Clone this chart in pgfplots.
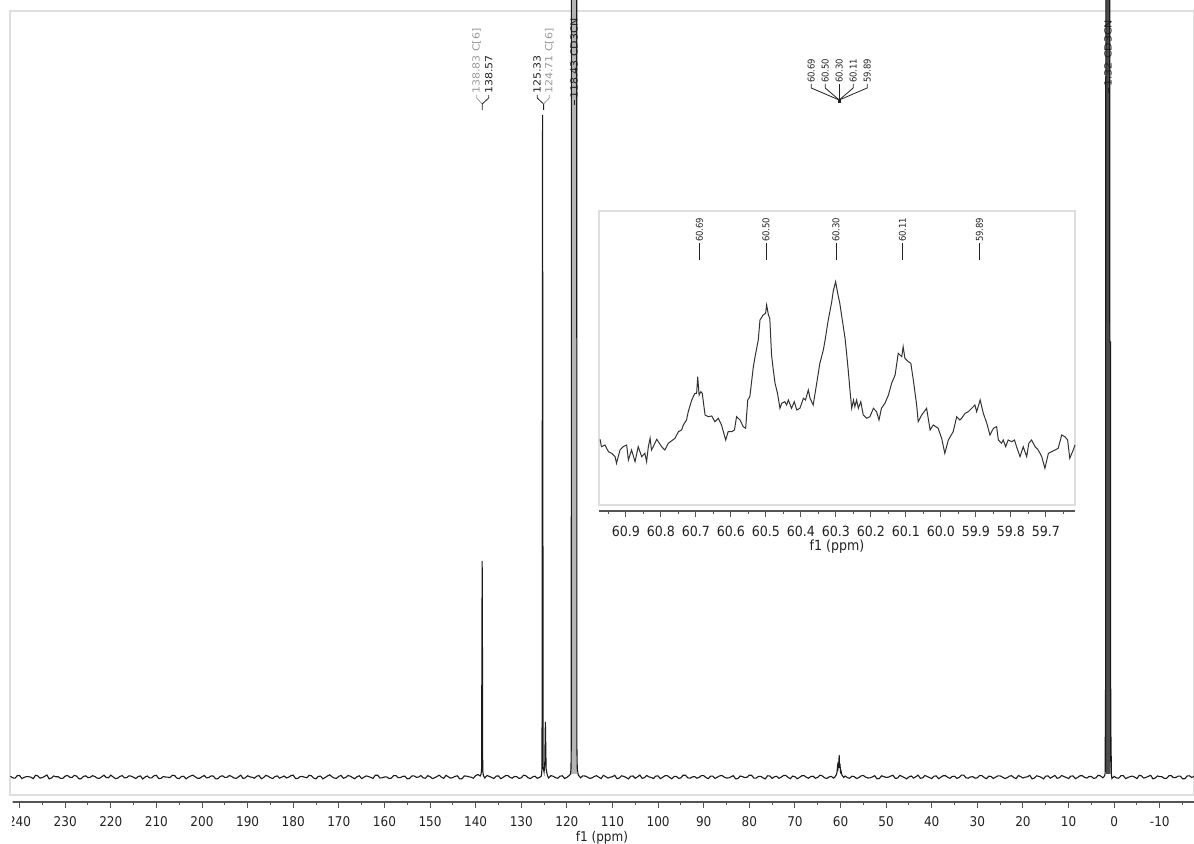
\documentclass[border=0pt]{standalone}
\usepackage{pgfplots}
\pgfplotsset{compat=1.18}
\usepackage{fontspec}
\setmainfont{DejaVu Sans Condensed}

\definecolor{spec}{HTML}{1A1A1A}
\definecolor{framegray}{HTML}{DEDEDE}
\definecolor{axisgray}{HTML}{555555}
\definecolor{labgray}{HTML}{999999}
\definecolor{labdark}{HTML}{222222}
\definecolor{nitrile}{HTML}{B4B4B4}
\definecolor{methyl}{HTML}{4C4C4C}

\newcommand{\ticksfont}{\fontsize{6.7}{7.5}\selectfont}
\newcommand{\labfont}{\fontsize{4.7}{5}\selectfont}
\newcommand{\peakfont}{\fontsize{4.9}{5}\selectfont}
% peak labels are drawn stretched along the reading direction
\newcommand{\wl}[1]{\scalebox{1.25}[1]{#1}}

\tikzset{
  vlab/.style={rotate=90, anchor=west, inner sep=0.3pt, font=\labfont, text=#1},
  vlab/.default=labdark,
  plab/.style={rotate=90, anchor=west, inner sep=0.3pt, font=\peakfont, text=#1},
  plab/.default=labdark,
}

\pgfplotsset{
  ppmticks/.style={
    scale only axis, axis x line*=bottom, axis y line=none,
    ymin=0, ymax=1, x dir=reverse, tick align=outside,
    x axis line style={axisgray, line width=0.6pt, -},
    xtick style={axisgray, line width=0.5pt},
    major tick length=3pt, minor tick length=1.6pt,
    xticklabel style={font=\ticksfont, text=labdark, anchor=north, inner sep=0pt, yshift=-4.3pt},
    xlabel style={font=\ticksfont, text=labdark, at={(axis description cs:0.5,0)}, anchor=north, inner sep=0pt, yshift=-14.3pt},
  },
  frameonly/.style={
    scale only axis, x dir=reverse, xtick=\empty, ytick=\empty,
    axis line style={framegray, line width=0.6pt}, clip=false,
  },
}

\begin{document}
\begin{tikzpicture}
\useasboundingbox (0,0) rectangle (597pt,422pt);

% ---------- main spectrum: frame, solvent band fills and peak labels ----------
\begin{axis}[frameonly, at={(5pt,24.5pt)}, anchor=south west,
  width=592pt, height=392pt, xmin=-17.5, xmax=242.1, ymin=-18, ymax=766]
  % interior of the two broad solvent signals
  \addplot[draw=none, fill=nitrile] coordinates {(119.0,3)(119.0,900)(117.85,900)(117.85,3)};
  \addplot[draw=none, fill=methyl] coordinates {(1.82,3)(1.82,900)(0.98,900)(0.96,435)(0.78,435)(0.76,3)};
  % 138.57 / 138.83
  \draw[labgray, line width=0.4pt] (axis cs:139.78,682) -- (axis cs:139.78,679) -- (axis cs:138.57,673);
  \draw[labdark, line width=0.4pt] (axis cs:137.14,682) -- (axis cs:137.14,679) -- (axis cs:138.57,673) -- (axis cs:138.57,667);
  \node[plab=labgray] at (axis cs:139.78,682) {\wl{138.83 C[6]}};
  \node[plab] at (axis cs:137.14,682) {\wl{138.57}};
  % 125.33 / 124.71
  \draw[labdark, line width=0.4pt] (axis cs:126.51,682) -- (axis cs:126.51,679) -- (axis cs:125.1,673) -- (axis cs:125.1,667);
  \draw[labgray, line width=0.4pt] (axis cs:123.88,682) -- (axis cs:123.88,679) -- (axis cs:125.1,673);
  \node[plab] at (axis cs:126.51,682) {\wl{125.33}};
  \node[plab=labgray] at (axis cs:123.88,682) {\wl{124.71 C[6]}};
  % solvent
  \draw[labdark, line width=0.4pt] (axis cs:118.40,672) -- (axis cs:118.40,677);
  \node[plab] at (axis cs:118.40,677) {\wl{118.43 CD3CN}};
  \draw[labdark, line width=0.4pt] (axis cs:1.32,684) -- (axis cs:1.32,689);
  \node[plab] at (axis cs:1.32,689) {\wl{1.32 CD3CN}};
  % multiplet near 60 ppm
  \draw[labdark, line width=0.4pt] (axis cs:66.43,693) -- (axis cs:66.43,689) -- (axis cs:60.29,677);
  \draw[labdark, line width=0.4pt] (axis cs:63.36,693) -- (axis cs:63.36,689) -- (axis cs:60.29,677);
  \draw[labdark, line width=0.4pt] (axis cs:60.29,693) -- (axis cs:60.29,677);
  \draw[labdark, line width=0.4pt] (axis cs:57.23,693) -- (axis cs:57.23,689) -- (axis cs:60.29,677);
  \draw[labdark, line width=0.4pt] (axis cs:54.16,693) -- (axis cs:54.16,689) -- (axis cs:60.29,677);
  \node[vlab] at (axis cs:66.43,693) {60.69};
  \node[vlab] at (axis cs:63.36,693) {60.50};
  \node[vlab] at (axis cs:60.29,693) {60.30};
  \node[vlab] at (axis cs:57.23,693) {60.11};
  \node[vlab] at (axis cs:54.16,693) {59.89};
  \fill[labdark] (axis cs:60.29,676) ++(-0.8pt,-0.8pt) rectangle ++(1.6pt,1.6pt);
\end{axis}

% ---------- main spectrum: data ----------
\begin{axis}[scale only axis, hide axis, clip=false, x dir=reverse,
  at={(5pt,24.5pt)}, anchor=south west,
  width=592pt, height=392pt, xmin=-17.5, xmax=242.1, ymin=-18, ymax=766]
\addplot[spec, line width=0.55pt] coordinates {
(242,0.8)(241.5,-0.9)(241,-1.2)(240.5,1.3)(240,1.5)(239.5,-1.6)(239,-0.4)(238.5,0.4)(238,0.3)(237.5,-0.2)
(237,-1.7)(236.5,1.7)(236,1.1)(235.5,-1.1)(235,-0.6)(234.5,0.6)(234,2.0)(233.5,-1.9)(233,-1.0)(232.5,1.0)
(232,0.2)(231.5,0.2)(231,-1.4)(230.5,-1.3)(230,0.9)(229.5,1.5)(229,-0.2)(228.5,-0.5)(228,1.6)(227.5,0.9)
(227,-1.8)(226.5,-1.7)(226,0.5)(225.5,1.2)(225,-0.7)(224.5,-0.3)(224,1.3)(223.5,0.5)(223,-1.1)(222.5,-1.4)
(222,0.1)(221.5,1.8)(221,-0.5)(220.5,-0.8)(220,1.9)(219.5,0.1)(219,-1.5)(218.5,-1.2)(218,0.6)(217.5,1.4)
(217,-0.9)(216.5,-0.6)(216,1.2)(215.5,0.8)(215,-0.3)(214.5,-1.5)(214,0.4)(213.5,1.1)(213,-2.0)(212.5,-0.1)
(212,1.0)(211.5,-0.9)(211,-0.8)(210.5,1.3)(210,1.7)(209.5,-1.6)(209,-1.3)(208.5,0.4)(208,0.0)(207.5,-0.2)
(207,-0.6)(206.5,1.7)(206,1.4)(205.5,-1.1)(205,-1.6)(204.5,0.6)(204,0.7)(203.5,-1.9)(203,-0.1)(202.5,1.0)
(202,1.8)(201.5,0.2)(201,-1.2)(200.5,-1.3)(200,0.3)(199.5,1.5)(199,-0.9)(198.5,-0.5)(198,1.1)(197.5,0.9)
(197,-1.9)(196.5,-1.7)(196,0.6)(195.5,1.2)(195,-0.4)(194.5,-0.3)(194,1.5)(193.5,0.5)(193,-1.0)(192.5,-1.4)
(192,0.2)(191.5,1.8)(191,-1.5)(190.5,-0.8)(190,1.3)(189.5,0.1)(189,-0.3)(188.5,-1.2)(188,0.8)(187.5,1.4)
(187,-1.7)(186.5,-0.6)(186,1.6)(185.5,0.8)(185,-0.7)(184.5,-1.5)(184,0.4)(183.5,1.1)(183,-1.2)(182.5,-0.1)
(182,1.0)(181.5,-0.9)(181,-0.2)(180.5,1.3)(180,1.9)(179.5,-1.6)(179,-1.4)(178.5,0.4)(178,0.5)(177.5,-0.2)
(177,-0.8)(176.5,1.7)(176,1.2)(175.5,-1.1)(175,-1.8)(174.5,0.6)(174,0.9)(173.5,-1.9)(173,-0.5)(172.5,1.0)
(172,2.2)(171.5,0.2)(171,-1.1)(170.5,-1.3)(170,0.7)(169.5,1.5)(169,-1.3)(168.5,-0.5)(168,1.4)(167.5,0.9)
(167,-0.6)(166.5,-1.7)(166,0.3)(165.5,1.2)(165,-1.6)(164.5,-0.3)(164,1.1)(163.5,0.5)(163,-0.4)(162.5,-1.4)
(162,1.7)(161.5,1.8)(161,-1.0)(160.5,-0.8)(160,0.0)(159.5,0.1)(159,-1.5)(158.5,-1.2)(158,1.3)(157.5,1.4)
(157,-0.7)(156.5,-0.6)(156,0.6)(155.5,0.8)(155,-1.9)(154.5,-1.5)(154,1.0)(153.5,1.1)(153,-0.3)(152.5,-0.1)
(152,1.5)(151.5,-0.9)(151,-1.2)(150.5,1.3)(150,0.4)(149.5,-1.6)(149,-0.8)(148.5,0.4)(148,1.8)(147.5,-0.2)
(147,-1.4)(146.5,1.7)(146,0.2)(145.5,-1.1)(145,-0.6)(144.5,0.6)(144,1.2)(143.5,-1.9)(143,-1.7)(142.5,1.0)
(142,0.9)(141.5,0.2)(141,-0.2)(140.5,-1.3)(140,1.4)(139.5,2.5)(139.0,1.0)(138.8,3)(138.7,8)(138.62,150)
(138.57,216)(138.52,150)(138.45,6)(138.3,1.5)(138,-1.0)(137.5,1.5)(137,0.6)(136.5,-0.5)(136,-1.5)(135.5,0.9)
(135,1.1)(134.5,-1.7)(134,-0.4)(133.5,1.2)(133,1.6)(132.5,-0.3)(132,-1.2)(131.5,0.5)(131,0.3)(130.5,-1.4)
(130,-0.9)(129.5,1.8)(129,1.3)(128.5,-0.8)(128,-1.6)(127.5,0.1)(127,0.8)(126.5,-1.2)(126,-0.5)(125.6,1.0)
(125.45,8)(125.38,400)(125.33,662)(125.28,400)(125.2,10)(125.0,5)(124.85,12)(124.76,40)(124.71,55)(124.66,40)
(124.55,8)(124.3,2)(124,-1.0)(123.5,1.4)(123,0.7)(122.5,-0.6)(122,-1.3)(121.5,0.8)(121,1.2)(120.5,-1.5)
(120,-0.4)(119.5,1.5)(119.2,3)(119.1,8)(119.04,30)(119.0,900)(117.85,900)(117.8,30)(117.72,8)(117.5,2)
(117,-0.8)(116.5,1.1)(116,1.0)(115.5,-0.1)(115,-1.4)(114.5,-0.9)(114,0.5)(113.5,1.3)(113,-0.2)(112.5,-1.6)
(112,1.6)(111.5,0.4)(111,-1.1)(110.5,-0.2)(110,0.3)(109.5,1.7)(109,-1.7)(108.5,-1.1)(108,1.2)(107.5,0.6)
(107,-0.5)(106.5,-1.9)(106,0.8)(105.5,1.0)(105,-1.3)(104.5,0.2)(104,1.9)(103.5,-1.3)(103,-0.7)(102.5,1.5)
(102,0.1)(101.5,-0.5)(101,-1.5)(100.5,0.9)(100,1.1)(99.5,-1.7)(99,-0.3)(98.5,1.2)(98,1.4)(97.5,-0.3)
(97,-1.8)(96.5,0.5)(96,0.6)(95.5,-1.4)(95,-0.9)(94.5,1.8)(94,1.7)(93.5,-0.8)(93,-1.2)(92.5,0.1)
(92,0.4)(91.5,-1.2)(91,-0.4)(90.5,1.4)(90,1.3)(89.5,-0.6)(89,-1.6)(88.5,0.8)(88,0.9)(87.5,-1.5)
(87,-0.1)(86.5,1.1)(86,1.5)(85.5,-0.1)(85,-1.0)(84.5,-0.9)(84,0.2)(83.5,1.3)(83,-1.9)(82.5,-1.6)
(82,1.0)(81.5,0.4)(81,-0.6)(80.5,-0.2)(80,1.8)(79.5,1.7)(79,-1.1)(78.5,-1.1)(78,0.5)(77.5,0.6)
(77,-0.8)(76.5,-1.9)(76,1.2)(75.5,1.0)(75,-1.4)(74.5,0.2)(74,0.7)(73.5,-1.3)(73,-0.2)(72.5,1.5)
(72,1.6)(71.5,-0.5)(71,-1.7)(70.5,0.9)(70,0.3)(69.5,-1.7)(69,-0.5)(68.5,1.2)(68,1.4)(67.5,-0.3)
(67,-1.2)(66.5,0.5)(66,0.8)(65.5,-1.4)(65,-0.3)(64.5,1.8)(64,1.1)(63.5,-0.8)(63,-1.5)(62.5,0.1)
(62,0.6)(61.5,-1.2)(61.3,-0.4)(60.95,2)(60.8,4)(60.69,9)(60.6,6)(60.5,15)(60.4,9)(60.3,22)
(60.2,10)(60.11,13)(60.0,5)(59.89,6)(59.7,2)(59.5,0.8)(59.3,-0.5)(59,1.0)(58.5,-0.6)(58,-1.3)
(57.5,0.8)(57,0.4)(56.5,-1.5)(56,-0.7)(55.5,1.1)(55,1.5)(54.5,-0.1)(54,-1.0)(53.5,-0.9)(53,0.2)
(52.5,1.3)(52,-1.8)(51.5,-1.6)(51,1.2)(50.5,0.4)(50,-0.4)(49.5,-0.2)(49,0.9)(48.5,1.7)(48,-1.4)
(47.5,-1.1)(47,1.6)(46.5,0.6)(46,-0.6)(45.5,-1.9)(45,0.1)(44.5,1.0)(44,-1.1)(43.5,0.2)(43,1.8)
(42.5,-1.3)(42,-0.9)(41.5,1.5)(41,0.5)(40.5,-0.5)(40,-1.6)(39.5,0.9)(39,1.0)(38.5,-1.7)(38,-0.2)
(37.5,1.2)(37,1.3)(36.5,-0.3)(36,-1.3)(35.5,0.5)(35,0.7)(34.5,-1.4)(34,-0.5)(33.5,1.8)(33,1.9)
(32.5,-0.8)(32,-1.2)(31.5,0.1)(31,0.3)(30.5,-1.2)(30,-0.8)(29.5,1.4)(29,1.4)(28.5,-0.6)(28,-1.7)
(27.5,0.8)(27,0.6)(26.5,-1.5)(26,-0.1)(25.5,1.1)(25,1.1)(24.5,-0.1)(24,-1.4)(23.5,-0.9)(23,0.8)
(22.5,1.3)(22,-0.6)(21.5,-1.6)(21,1.5)(20.5,0.4)(20,-1.0)(19.5,-0.2)(19,0.2)(18.5,1.7)(18,-1.9)
(17.5,-1.1)(17,1.2)(16.5,0.6)(16,-0.3)(15.5,-1.9)(15,0.9)(14.5,1.0)(14,-1.2)(13.5,0.2)(13,1.6)
(12.5,-1.3)(12,-0.7)(11.5,1.5)(11,0.4)(10.5,-0.5)(10,-1.5)(9.5,0.9)(9,1.0)(8.5,-1.7)(8,-0.4)
(7.5,1.2)(7,1.3)(6.5,-0.3)(6,-1.1)(5.5,0.5)(5,0.5)(4.5,-1.4)(4,-0.9)(3.5,1.8)(3,1.1)
(2.5,-0.8)(2.2,0.5)(2.1,1.5)(2.0,3)(1.95,40)(1.9,5)(1.82,900)(0.98,900)(0.96,435)(0.78,435)
(0.76,15)(0.69,40)(0.62,3)(0.5,-1.5)(0,0.6)(-0.5,-0.9)(-1,-1.2)(-1.5,1.3)(-2,1.4)(-2.5,-1.6)
(-3,-0.5)(-3.5,0.4)(-4,0.9)(-4.5,-0.2)(-5,-1.6)(-5.5,1.7)(-6,1.1)(-6.5,-1.1)(-7,-0.3)(-7.5,0.6)
(-8,1.7)(-8.5,-1.9)(-9,-1.0)(-9.5,1.0)(-10,0.4)(-10.5,0.2)(-11,-1.4)(-11.5,-1.3)(-12,1.2)(-12.5,1.5)
(-13,-0.7)(-13.5,-0.5)(-14,0.8)(-14.5,0.9)(-15,-1.8)(-15.5,-1.7)(-16,1.0)(-16.5,1.2)(-17,-0.5)(-17.5,0.6)
};
\end{axis}

% ---------- main ppm scale (labels cut at the frame's left edge) ----------
\begin{scope}
\clip (6.3pt,-1pt) rectangle (598pt,24pt);
\begin{axis}[ppmticks, at={(5pt,21pt)}, anchor=south west,
  width=592pt, height=4pt, xmin=-17.5, xmax=242.1,
  xtick={-10,0,...,240},
  xticklabels={-10,0,10,20,30,40,50,60,70,80,90,100,110,120,130,140,150,160,170,180,190,200,210,220,230,240},
  minor xtick={-15,-5,...,235},
  xlabel={f1 (ppm)}]
\end{axis}
\end{scope}

% ---------- inset: expansion of the 60 ppm multiplet ----------
\begin{axis}[frameonly, at={(299.5pt,169.5pt)}, anchor=south west,
  width=238pt, height=147pt, xmin=59.617, xmax=60.977, ymin=0, ymax=294]
  \draw[labdark, line width=0.4pt] (axis cs:60.69,245) -- (axis cs:60.69,262);
  \draw[labdark, line width=0.4pt] (axis cs:60.50,245) -- (axis cs:60.50,262);
  \draw[labdark, line width=0.4pt] (axis cs:60.30,245) -- (axis cs:60.30,262);
  \draw[labdark, line width=0.4pt] (axis cs:60.11,245) -- (axis cs:60.11,262);
  \draw[labdark, line width=0.4pt] (axis cs:59.89,245) -- (axis cs:59.89,262);
  \node[vlab] at (axis cs:60.69,262) {60.69};
  \node[vlab] at (axis cs:60.50,262) {60.50};
  \node[vlab] at (axis cs:60.30,262) {60.30};
  \node[vlab] at (axis cs:60.11,262) {60.11};
  \node[vlab] at (axis cs:59.89,262) {59.89};
\addplot[black!80, line width=0.5pt] coordinates {
(60.974,65.7)(60.970,58.3)(60.960,60.0)(60.950,53.3)(60.941,51.7)(60.931,48.3)(60.927,41.7)(60.917,55.0)
(60.908,58.3)(60.898,60.0)(60.893,45.0)(60.884,55.0)(60.874,43.3)(60.865,58.3)(60.855,48.3)(60.846,51.7)
(60.841,43.3)(60.836,58.3)(60.831,66.7)(60.827,55.0)(60.822,58.3)(60.812,65.7)(60.798,58.3)(60.789,55.0)
(60.779,61.7)(60.760,66.7)(60.750,73.3)(60.741,75.0)(60.736,80.0)(60.727,85.0)(60.722,93.3)(60.712,105.0)
(60.703,111.7)(60.698,111.7)(60.695,128.3)(60.691,110.0)(60.686,113.3)(60.682,111.7)(60.674,90.0)(60.665,88.3)
(60.655,89.0)(60.646,83.3)(60.636,86.7)(60.627,80.0)(60.615,65.0)(60.608,73.3)(60.598,73.3)(60.590,75.0)
(60.584,88.3)(60.574,85.0)(60.565,78.3)(60.558,76.7)(60.552,105.0)(60.546,108.3)(60.536,138.3)(60.531,148.3)
(60.522,165.0)(60.517,185.0)(60.508,190.0)(60.501,191.7)(60.498,200.0)(60.493,190.0)(60.489,186.7)(60.484,150.0)
(60.479,135.0)(60.474,121.7)(60.467,111.7)(60.460,96.7)(60.455,101.7)(60.446,103.3)(60.441,100.0)(60.436,105.0)
(60.427,96.7)(60.419,103.3)(60.412,95.0)(60.403,96.7)(60.393,106.7)(60.387,105.0)(60.379,115.0)(60.374,106.7)
(60.365,100.0)(60.355,121.7)(60.346,141.7)(60.336,155.0)(60.331,165.0)(60.322,185.0)(60.312,203.3)(60.308,213.3)
(60.301,223.3)(60.295,211.7)(60.289,201.7)(60.284,190.0)(60.274,166.7)(60.270,153.3)(60.265,135.0)(60.260,115.0)
(60.255,96.7)(60.250,105.0)(60.246,98.3)(60.241,105.0)(60.236,96.7)(60.229,103.3)(60.222,90.0)(60.212,86.7)
(60.203,88.3)(60.193,96.7)(60.184,93.3)(60.177,85.0)(60.170,96.7)(60.160,101.7)(60.150,110.0)(60.141,121.7)
(60.131,130.0)(60.122,151.7)(60.112,148.3)(60.108,158.3)(60.103,146.7)(60.093,143.3)(60.086,141.7)(60.079,125.0)
(60.070,101.7)(60.065,83.3)(60.055,90.0)(60.041,96.7)(60.031,75.0)(60.022,80.0)(60.008,76.7)(59.998,66.7)
(59.989,51.7)(59.979,65.0)(59.965,73.3)(59.955,88.3)(59.946,85.0)(59.941,86.7)(59.931,91.7)(59.922,93.3)
(59.912,96.7)(59.903,100.0)(59.898,93.3)(59.888,105.0)(59.879,91.7)(59.869,81.7)(59.860,70.0)(59.850,76.7)
(59.841,78.3)(59.836,65.0)(59.827,61.7)(59.822,65.0)(59.815,58.3)(59.808,65.0)(59.798,63.3)(59.790,65.0)
(59.784,58.3)(59.774,48.3)(59.765,58.3)(59.755,48.3)(59.749,61.7)(59.741,65.0)(59.731,58.3)(59.722,55.0)
(59.712,48.3)(59.703,36.7)(59.693,51.7)(59.684,53.3)(59.674,55.0)(59.665,56.7)(59.655,70.0)(59.646,68.3)
(59.638,65.0)(59.632,46.7)(59.622,55.0)(59.617,60.0)
};
\end{axis}

% ---------- inset ppm scale ----------
\begin{axis}[ppmticks, at={(299.5pt,166.5pt)}, anchor=south west,
  width=238pt, height=3pt, xmin=59.617, xmax=60.977,
  major tick length=2.8pt, minor tick length=1.5pt,
  xtick={59.7,59.8,59.9,60.0,60.1,60.2,60.3,60.4,60.5,60.6,60.7,60.8,60.9},
  xticklabels={59.7,59.8,59.9,60.0,60.1,60.2,60.3,60.4,60.5,60.6,60.7,60.8,60.9},
  minor xtick={59.65,59.75,59.85,59.95,60.05,60.15,60.25,60.35,60.45,60.55,60.65,60.75,60.85,60.95},
  xticklabel style={font=\fontsize{7}{8}\selectfont, yshift=-0.5pt},
  xlabel style={font=\fontsize{7}{8}\selectfont},
  xlabel={f1 (ppm)}]
\end{axis}
\end{tikzpicture}
\end{document}
